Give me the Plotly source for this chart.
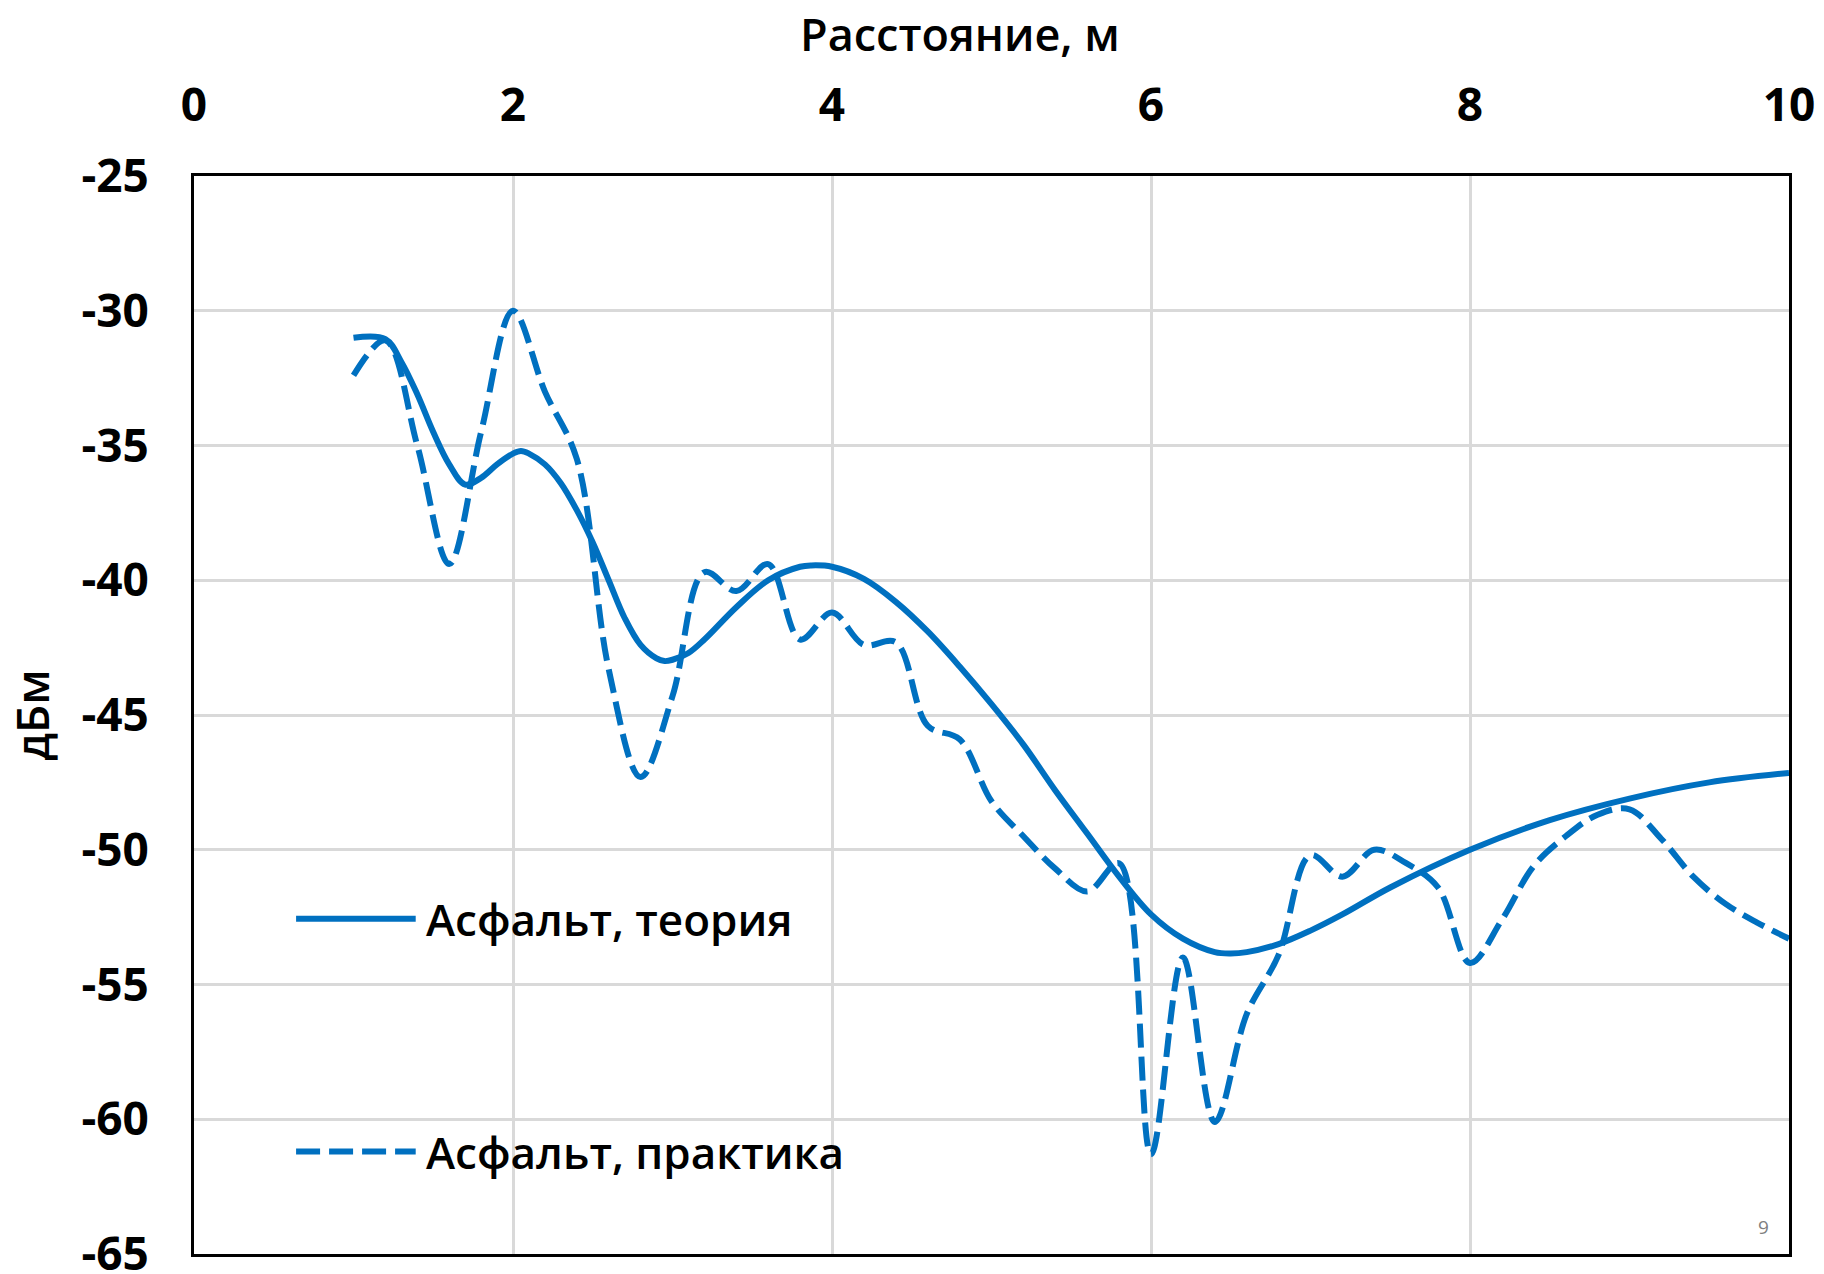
import plotly.graph_objects as go

# Теоретическая кривая (асфальт)
theory_x = [1.0, 1.2, 1.3, 1.4, 1.5, 1.6, 1.7, 1.8, 1.9, 2.0, 2.05, 2.1, 2.2, 2.3, 2.4,
            2.5, 2.6, 2.7, 2.8, 2.9, 2.95, 3.0, 3.1, 3.2, 3.4, 3.6, 3.8, 3.87, 4.0, 4.2,
            4.4, 4.6, 4.8, 5.0, 5.2, 5.4, 5.6, 5.8, 6.0, 6.2, 6.4, 6.5, 6.6, 6.8, 7.0,
            7.2, 7.5, 8.0, 8.5, 9.0, 9.5, 10.0]
theory_y = [-31.0, -31.05, -31.9, -33.1, -34.5, -35.7, -36.45, -36.2, -35.7, -35.3, -35.2,
            -35.3, -35.7, -36.4, -37.4, -38.6, -40.0, -41.4, -42.4, -42.9, -43.0, -42.95,
            -42.7, -42.2, -41.0, -40.0, -39.5, -39.45, -39.5, -39.95, -40.8, -41.9, -43.2,
            -44.6, -46.1, -47.8, -49.4, -51.0, -52.4, -53.3, -53.8, -53.85, -53.8, -53.5,
            -53.0, -52.4, -51.4, -50.0, -48.9, -48.1, -47.5, -47.15]

# Измерения (асфальт), шаг 0.2 м
practice_x = [1.0, 1.2, 1.4, 1.6, 1.8, 2.0, 2.2, 2.4, 2.6, 2.8, 3.0, 3.2, 3.4, 3.6, 3.8,
              4.0, 4.2, 4.4, 4.6, 4.8, 5.0, 5.2, 5.4, 5.6, 5.8, 6.0, 6.2, 6.4, 6.6, 6.8,
              7.0, 7.2, 7.4, 7.6, 7.8, 8.0, 8.2, 8.4, 8.6, 8.8, 9.0, 9.2, 9.4, 9.6, 9.8,
              10.0]
practice_y = [-32.4, -31.1, -35.0, -39.4, -34.5, -30.0, -33.0, -35.5, -43.3, -47.3, -44.3,
              -39.7, -40.4, -39.4, -42.2, -41.2, -42.4, -42.3, -45.4, -45.9, -48.2, -49.5,
              -50.7, -51.55, -50.5, -61.3, -54.0, -60.1, -56.1, -53.9, -50.2, -51.0, -50.0,
              -50.5, -51.4, -54.2, -52.6, -50.6, -49.5, -48.7, -48.5, -49.6, -51.0, -52.0,
              -52.7, -53.3]

series_names = ["Асфальт, теория", "Асфальт, практика"]
x_title = "Расстояние, м"
y_title = "дБм"
x_ticks = [0, 2, 4, 6, 8, 10]
y_ticks = [-25, -30, -35, -40, -45, -50, -55, -60, -65]

BLUE = "#0070C0"
GRID = "#D9D9D9"
FONT = "Open Sans"
DASH = "24px,9px"
LINE_W = 6

fig = go.Figure()
fig.add_trace(go.Scatter(x=theory_x, y=theory_y, mode="lines", name=series_names[0],
                         line=dict(color=BLUE, width=LINE_W, shape="spline", smoothing=1.0),
                         showlegend=False))
fig.add_trace(go.Scatter(x=practice_x, y=practice_y, mode="lines", name=series_names[1],
                         line=dict(color=BLUE, width=LINE_W, dash=DASH, shape="spline",
                                   smoothing=1.0),
                         showlegend=False))

# Легенда внутри области построения
legend_rows = [(series_names[0], 0.311, "solid"), (series_names[1], 0.095, DASH)]
for text, yp, dash in legend_rows:
    fig.add_shape(type="line", xref="paper", yref="paper", x0=0.064, x1=0.139,
                  y0=yp, y1=yp, line=dict(color=BLUE, width=LINE_W, dash=dash))
    fig.add_annotation(text=text, xref="paper", yref="paper", x=0.144, y=yp,
                       xanchor="left", yanchor="middle", showarrow=False,
                       font=dict(family=FONT, size=44, color="#000000", weight=600))

# Подпись оси X над графиком
fig.add_annotation(text=x_title, xref="paper", yref="paper", x=0.48, y=1.0,
                   yshift=143, xanchor="center", yanchor="middle", showarrow=False,
                   font=dict(family=FONT, size=45, color="#000000", weight=600))

# Номер слайда
fig.add_annotation(text="9", xref="paper", yref="paper", x=0.984, y=0.025,
                   xanchor="center", yanchor="middle", showarrow=False,
                   font=dict(family=FONT, size=19, color="#7F7F7F"))

axis_common = dict(showgrid=True, gridcolor=GRID, gridwidth=2.5, showline=True,
                   linecolor="#000000", linewidth=3, mirror=True, ticks="",
                   zeroline=False, ticklabeloverflow="allow", automargin=False,
                   tickfont=dict(family=FONT, size=46, color="#000000", weight=700))

fig.update_xaxes(range=[0, 10], side="top", tickvals=x_ticks,
                 ticktext=[str(v) for v in x_ticks], ticklabelstandoff=34,
                 **axis_common)
fig.update_yaxes(range=[-65, -25], tickvals=y_ticks,
                 ticktext=[str(v) for v in y_ticks], ticklabelstandoff=33,
                 title=dict(text=y_title, standoff=18,
                            font=dict(family=FONT, size=45, color="#000000", weight=600)),
                 **axis_common)

fig.update_layout(width=1824, height=1274,
                  margin=dict(l=194, r=35, t=176, b=20),
                  plot_bgcolor="#FFFFFF", paper_bgcolor="#FFFFFF",
                  font=dict(family=FONT))

fig.write_html("out.html")
